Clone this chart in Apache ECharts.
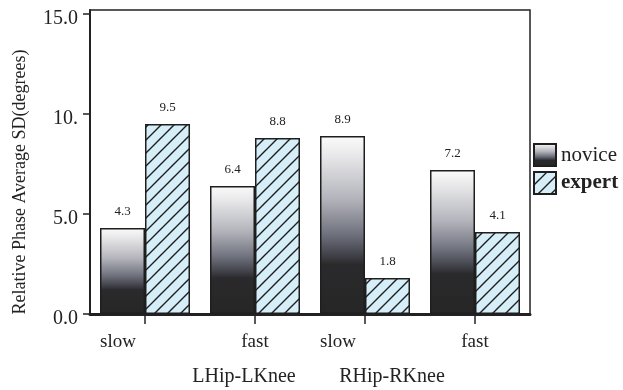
<!DOCTYPE html>
<html>
<head>
<meta charset="utf-8">
<script src="https://cdn.jsdelivr.net/npm/echarts@6/dist/echarts.min.js"></script>
<style>
html,body{margin:0;padding:0;background:#fff;}
#chart{width:623px;height:390px;}
</style>
</head>
<body>
<div id="chart"></div>
<script>
// ---- data ----
var categories = ['LHip-LKnee slow', 'LHip-LKnee fast', 'RHip-RKnee slow', 'RHip-RKnee fast'];
var speedLabels = ['slow', 'fast', 'slow', 'fast'];
var groupLabels = ['LHip-LKnee', 'RHip-RKnee'];
var novice = [4.3, 6.4, 8.9, 7.2];
var expert = [9.5, 8.8, 1.8, 4.1];
var tickValues = [0, 5, 10, 15];
var tickLabels = ['0.0', '5.0', '10.', '15.0'];
var seriesNames = ['novice', 'expert'];
var yTitle = 'Relative Phase Average SD(degrees)';

var FONT = '"Liberation Serif", "DejaVu Serif", serif';

// hatch pattern for expert bars
function makeHatch() {
  var s = 13;
  var c = document.createElement('canvas');
  c.width = s; c.height = s;
  var ctx = c.getContext('2d');
  ctx.fillStyle = '#d6eef8';
  ctx.fillRect(0, 0, s, s);
  ctx.strokeStyle = '#1e1e1e';
  ctx.lineWidth = 1.4;
  ctx.beginPath();
  ctx.moveTo(-1, s + 1); ctx.lineTo(s + 1, -1);
  ctx.moveTo(-2, 2); ctx.lineTo(2, -2);
  ctx.moveTo(s - 2, s + 2); ctx.lineTo(s + 2, s - 2);
  ctx.stroke();
  return c;
}

var noviceGrad = new echarts.graphic.LinearGradient(0, 0, 0, 1, [
  {offset: 0, color: '#fbfbfb'},
  {offset: 0.12, color: '#e6e6e8'},
  {offset: 0.35, color: '#b4b5bc'},
  {offset: 0.55, color: '#70727e'},
  {offset: 0.68, color: '#3c3d44'},
  {offset: 0.72, color: '#2a2a2c'},
  {offset: 1, color: '#262626'}
]);

var chart = echarts.init(document.getElementById('chart'), null, {renderer: 'canvas'});
var option = {
  animation: false,
  backgroundColor: '#fff',
  textStyle: {fontFamily: FONT},
  grid: {left: 90, right: 93, top: 10, bottom: 76, show: true, borderColor: '#222', borderWidth: 1.5, backgroundColor: 'transparent'},
  legend: {
    orient: 'vertical', left: 533, top: 143, padding: 0,
    itemWidth: 22, itemHeight: 22, itemGap: 4, icon: 'rect',
    textStyle: {fontFamily: FONT, fontSize: 21, color: '#222'},
    data: [{name: seriesNames[0]}, {name: seriesNames[1], textStyle: {fontWeight: 'bold'}}]
  },
  xAxis: {
    type: 'category', data: categories,
    axisLine: {lineStyle: {color: '#222', width: 3}},
    axisTick: {show: true, alignWithLabel: true, length: 10, lineStyle: {color: '#222', width: 1.5}},
    axisLabel: {
      margin: 19, fontFamily: FONT, fontSize: 19, color: '#222',
      formatter: function (v, i) {
        return speedLabels[i] === 'slow' ? '{s|' + speedLabels[i] + '}' : '{f|' + speedLabels[i] + '}';
      },
      rich: {
        s: {fontFamily: FONT, fontSize: 19, color: '#222', padding: [0, 54, 0, 0]},
        f: {fontFamily: FONT, fontSize: 19, color: '#222', padding: [0, 0, 0, 0]}
      }
    }
  },
  yAxis: {
    type: 'value', min: 0, max: 15.2,
    splitLine: {show: false},
    axisLine: {show: true, lineStyle: {color: '#222', width: 2}},
    axisTick: {show: true, length: 7, customValues: tickValues, lineStyle: {color: '#222', width: 1.5}},
    axisLabel: {
      margin: 12, fontFamily: FONT, fontSize: 20, color: '#222',
      customValues: tickValues,
      formatter: function (v) {
        var i = tickValues.indexOf(v);
        return i >= 0 ? '{t|' + tickLabels[i] + '}' : '';
      },
      rich: {
        t: {fontFamily: FONT, fontSize: 20, color: '#222', padding: [10, 0, 0, 0]}
      }
    }
  },
  graphic: [
    {type: 'text', x: 20, y: 182, rotation: Math.PI / 2,
     style: {text: yTitle, font: '18px ' + FONT, fill: '#222', align: 'center', verticalAlign: 'middle'}},
    {type: 'text', x: 244, y: 377,
     style: {text: groupLabels[0], font: '20px ' + FONT, fill: '#222', align: 'center', verticalAlign: 'middle'}},
    {type: 'text', x: 392, y: 377,
     style: {text: groupLabels[1], font: '20px ' + FONT, fill: '#222', align: 'center', verticalAlign: 'middle'}}
  ],
  series: [
    {
      name: seriesNames[0], type: 'bar', data: novice, barWidth: 45, barGap: '0%',
      itemStyle: {color: noviceGrad, borderColor: '#1e1e1e', borderWidth: 1.5},
      label: {show: true, position: 'top', distance: 10, fontFamily: FONT, fontSize: 13, color: '#222',
        formatter: function (p) { return p.value.toFixed(1); }}
    },
    {
      name: seriesNames[1], type: 'bar', data: expert, barWidth: 45, barGap: '0%',
      itemStyle: {color: {image: makeHatch(), repeat: 'repeat'}, borderColor: '#1e1e1e', borderWidth: 1.5},
      label: {show: true, position: 'top', distance: 10, fontFamily: FONT, fontSize: 13, color: '#222',
        formatter: function (p) { return p.value.toFixed(1); }}
    }
  ]
};
chart.setOption(option);
</script>
</body>
</html>
